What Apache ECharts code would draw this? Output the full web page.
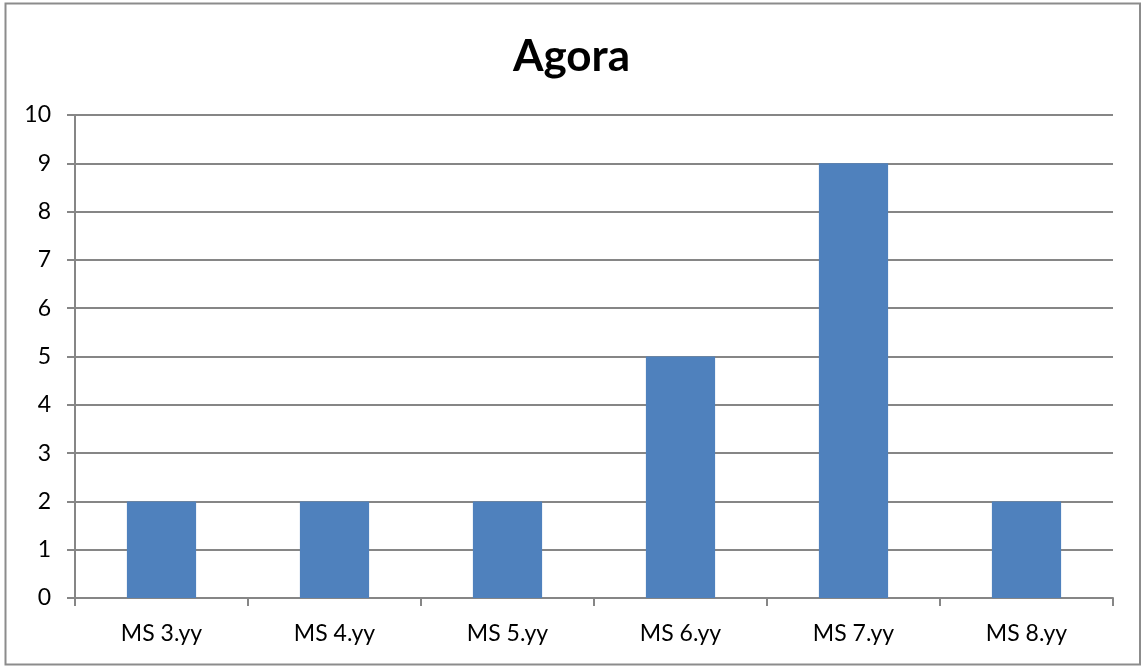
<!DOCTYPE html>
<html>
<head>
<meta charset="utf-8">
<title>Agora</title>
<script src="https://cdn.jsdelivr.net/npm/echarts@6/dist/echarts.min.js"></script>
<style>
  html, body { margin: 0; padding: 0; background: #fff; }
  #chart { width: 1143px; height: 666px; }
</style>
</head>
<body>
<div id="chart"></div>
<script>
  // data
  var chartTitle = 'Agora';
  var categories = ['MS 3.yy', 'MS 4.yy', 'MS 5.yy', 'MS 6.yy', 'MS 7.yy', 'MS 8.yy'];
  var values = [2, 2, 2, 5, 9, 2];
  var yTicks = [0, 10, 1]; // min, max, step

  var myChart = echarts.init(document.getElementById('chart'));
  var fontFam = 'Lato, "Open Sans", sans-serif';

  var chartOption = {
    animation: false,
    backgroundColor: '#fff',
    // outer chart frame
    graphic: [{
      type: 'rect',
      shape: { x: 5.5, y: 3.5, width: 1134.5, height: 661 },
      style: { fill: 'none', stroke: '#8c8c8c', lineWidth: 2 },
      silent: true
    }],
    title: {
      text: chartTitle,
      left: 'center',
      top: 30,
      textStyle: { fontFamily: fontFam, fontWeight: 'bold', fontSize: 44, color: '#000' }
    },
    grid: { left: 75, right: 30, top: 115, bottom: 68 },
    xAxis: {
      type: 'category',
      data: categories,
      axisLine: { lineStyle: { color: '#868686', width: 2 } },
      axisTick: { show: true, length: 8, lineStyle: { color: '#868686', width: 2 } },
      axisLabel: { fontFamily: fontFam, fontSize: 23, color: '#000', margin: 24 }
    },
    yAxis: {
      type: 'value',
      min: yTicks[0],
      max: yTicks[1],
      interval: yTicks[2],
      axisLine: { show: true, lineStyle: { color: '#868686', width: 2 } },
      axisTick: { show: true, length: 8, lineStyle: { color: '#868686', width: 2 } },
      splitLine: { lineStyle: { color: '#868686', width: 2 } },
      axisLabel: { fontFamily: fontFam, fontSize: 23, color: '#000', margin: 24 }
    },
    series: [{
      type: 'bar',
      data: values,
      barWidth: '40%',
      itemStyle: { color: '#4f81bd' }
    }]
  };

  myChart.setOption(chartOption);
</script>
</body>
</html>
